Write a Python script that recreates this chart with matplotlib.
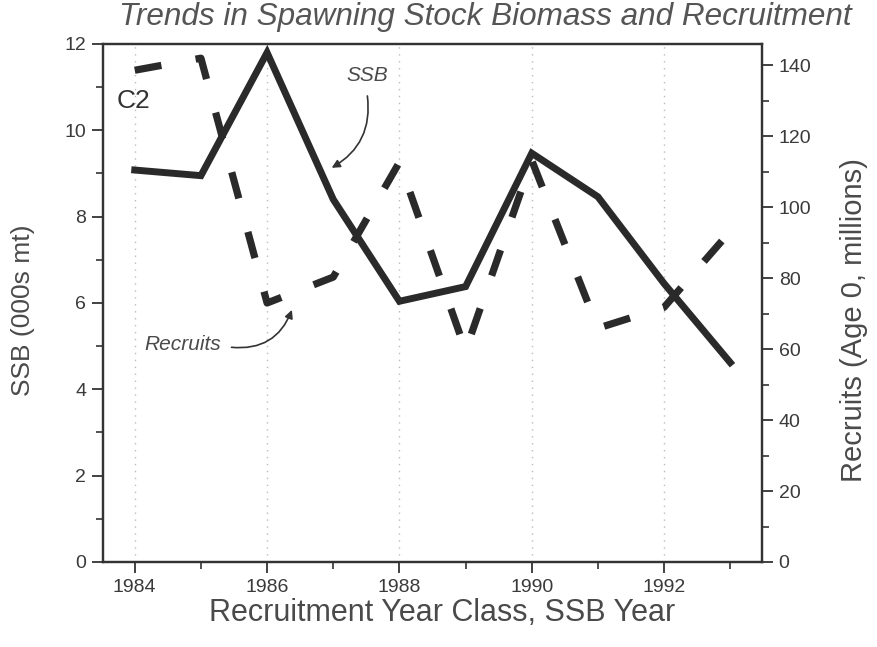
import matplotlib
matplotlib.use("Agg")
import matplotlib.pyplot as plt
from matplotlib.patches import FancyArrowPatch
from matplotlib.ticker import MultipleLocator

# ─── Data ─────────────────────────────────────────────────────────────────────
years = [1984, 1985, 1986, 1987, 1988, 1989, 1990, 1991, 1992, 1993]
ssb = [9.08, 8.95, 11.8, 8.4, 6.04, 6.38, 9.47, 8.46, 6.45, 4.62]          # 000s mt
recruits = [138.6, 142.0, 73.0, 80.3, 112.7, 59.6, 113.2, 65.9, 71.8, 93.2]  # millions

x_ticks = [1984, 1986, 1988, 1990, 1992]
ssb_ticks = [0, 2, 4, 6, 8, 10, 12]
rec_ticks = [0, 20, 40, 60, 80, 100, 120, 140]

# ─── Style ────────────────────────────────────────────────────────────────────
LINE = "#2a2a2a"
TEXT = "#4a4a4a"
plt.rcParams.update({
    "font.family": ["Liberation Sans", "DejaVu Sans"],
    "lines.scale_dashes": False,
})

fig = plt.figure(figsize=(8.78, 6.47), dpi=100)
ax = fig.add_axes([0.1173, 0.1314, 0.7506, 0.8006])
ax2 = ax.twinx()

ax.plot(years, ssb, color=LINE, linewidth=5.0, solid_joinstyle="miter", zorder=3)
ax2.plot(years, recruits, color=LINE, linewidth=5.2, dashes=(19.5, 25),
         dash_capstyle="butt", zorder=3)

ax.set_xlim(1983.52, 1993.48)
ax.set_ylim(0, 12)
ax2.set_ylim(0, 146)

ax.set_xticks(x_ticks)
ax.xaxis.set_minor_locator(MultipleLocator(1))
ax.set_yticks(ssb_ticks)
ax.yaxis.set_minor_locator(MultipleLocator(1))
ax2.set_yticks(rec_ticks)
ax2.yaxis.set_minor_locator(MultipleLocator(10))

for a in (ax, ax2):
    a.tick_params(which="major", direction="out", length=8, width=1.3,
                  color="#333333", labelsize=14, labelcolor="#3a3a3a", pad=4)
    a.tick_params(which="minor", direction="out", length=5, width=1.2,
                  color="#333333")
    for s in a.spines.values():
        s.set_linewidth(1.6)
        s.set_color("#333333")
ax.tick_params(axis="x", which="both", top=False)

# dotted vertical grid at the major years
ax.grid(axis="x", which="major", linestyle=(0, (1, 4)), color="#bbbbbb",
        linewidth=1.0)
ax.set_axisbelow(True)

ax.set_ylabel("SSB (000s mt)", fontsize=19, color=TEXT)
ax.yaxis.set_label_coords(-0.103, 0.486)
ax2.set_ylabel("Recruits (Age 0, millions)", fontsize=21, color=TEXT)
ax2.yaxis.set_label_coords(1.118, 0.467)
ax.set_xlabel("Recruitment Year Class, SSB Year", fontsize=22, color=TEXT)
ax.xaxis.set_label_coords(0.514, -0.069)

fig.text(0.553, 0.9737, "Trends in Spawning Stock Biomass and Recruitment",
         fontsize=22.7, style="italic", color="#555555", ha="center", va="center")

ax.text(1983.72, 10.68, "C2", fontsize=19, color="#333333", va="center")

# SSB label with curved arrow
ax.text(1987.52, 11.28, "SSB", fontsize=15, style="italic", color=TEXT,
        ha="center", va="center")
ax.add_patch(FancyArrowPatch((1987.51, 10.86), (1986.94, 9.1),
                             connectionstyle="arc3,rad=-0.35",
                             arrowstyle="-|>", mutation_scale=12,
                             color="#333333", lw=1.2, zorder=4))

# Recruits label with curved arrow
ax.text(1984.73, 5.03, "Recruits", fontsize=15, style="italic", color=TEXT,
        ha="center", va="center")
ax.add_patch(FancyArrowPatch((1985.42, 4.98), (1986.39, 5.9),
                             connectionstyle="arc3,rad=0.4",
                             arrowstyle="-|>", mutation_scale=12,
                             color="#333333", lw=1.2, zorder=4))

fig.savefig("out.png", dpi=100)
